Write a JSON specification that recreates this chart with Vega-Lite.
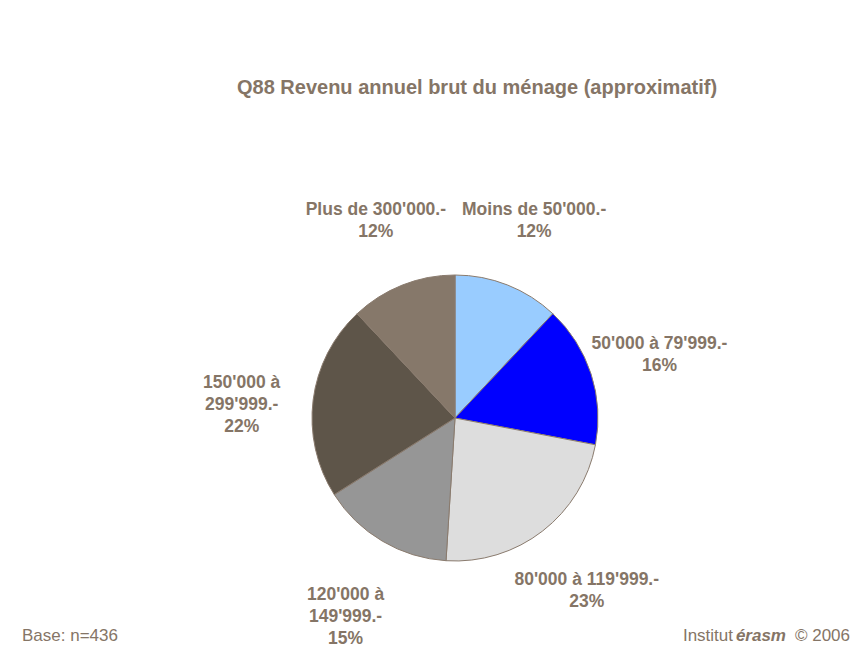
{
  "$schema": "https://vega.github.io/schema/vega-lite/v6.json",
  "width": 816,
  "height": 474,
  "autosize": {"type": "none"},
  "padding": {"left": 47, "top": 181, "right": 0, "bottom": 0},
  "background": "white",
  "config": {"view": {"stroke": null}, "font": "Liberation Sans"},
  "title": {
    "text": "Q88 Revenu annuel brut du ménage (approximatif)",
    "font": "Liberation Sans",
    "fontSize": 20,
    "fontWeight": "bold",
    "color": "#857566",
    "anchor": "middle",
    "frame": "group",
    "offset": 83,
    "dx": 22
  },
  "layer": [
    {
      "data": {"name": "revenu", "values": [
        {"categorie": "Moins de 50'000.-", "pourcentage": 12, "etiquette": "Moins de 50'000.-\n12%"},
        {"categorie": "50'000 à 79'999.-", "pourcentage": 16, "etiquette": "50'000 à 79'999.-\n16%"},
        {"categorie": "80'000 à 119'999.-", "pourcentage": 23, "etiquette": "80'000 à 119'999.-\n23%"},
        {"categorie": "120'000 à 149'999.-", "pourcentage": 15, "etiquette": "120'000 à\n149'999.-\n15%"},
        {"categorie": "150'000 à 299'999.-", "pourcentage": 22, "etiquette": "150'000 à\n299'999.-\n22%"},
        {"categorie": "Plus de 300'000.-", "pourcentage": 12, "etiquette": "Plus de 300'000.-\n12%"}
      ]},
      "transform": [{"window": [{"op": "row_number", "as": "rang"}]}],
      "encoding": {
        "theta": {"field": "pourcentage", "type": "quantitative", "stack": true},
        "order": {"field": "rang", "type": "quantitative"}
      },
      "layer": [
        {
          "mark": {"type": "arc", "outerRadius": 143, "stroke": "#8a7b6e", "strokeWidth": 1},
          "encoding": {
            "color": {
              "field": "categorie",
              "type": "nominal",
              "legend": null,
              "scale": {
                "domain": ["Moins de 50'000.-", "50'000 à 79'999.-", "80'000 à 119'999.-", "120'000 à 149'999.-", "150'000 à 299'999.-", "Plus de 300'000.-"],
                "range": ["#99ccff", "#0000ff", "#dddddd", "#969696", "#5e5549", "#86786a"]
              }
            }
          }
        },
        {
          "mark": {"type": "text", "radius": 215, "dy": -8, "font": "Liberation Sans", "fontSize": 17.5, "fontWeight": "bold", "color": "#857566", "lineBreak": "\n", "lineHeight": 22, "align": "center", "baseline": "middle"},
          "encoding": {"text": {"field": "etiquette", "type": "nominal"}}
        }
      ]
    },
    {
      "data": {"values": [{"t": "Base: n=436"}]},
      "mark": {"type": "text", "x": -25, "y": 455, "align": "left", "baseline": "middle", "font": "Liberation Sans", "fontSize": 17, "color": "#857566"},
      "encoding": {"text": {"field": "t", "type": "nominal"}}
    },
    {
      "data": {"values": [{"t": "Institut"}]},
      "mark": {"type": "text", "x": 686, "y": 455, "align": "right", "baseline": "middle", "font": "Liberation Sans", "fontSize": 17, "color": "#857566"},
      "encoding": {"text": {"field": "t", "type": "nominal"}}
    },
    {
      "data": {"values": [{"t": "érasm"}]},
      "mark": {"type": "text", "x": 739, "y": 455, "align": "right", "baseline": "middle", "font": "Liberation Sans", "fontSize": 17, "fontWeight": "bold", "fontStyle": "italic", "color": "#857566"},
      "encoding": {"text": {"field": "t", "type": "nominal"}}
    },
    {
      "data": {"values": [{"t": "© 2006"}]},
      "mark": {"type": "text", "x": 803, "y": 455, "align": "right", "baseline": "middle", "font": "Liberation Sans", "fontSize": 17, "color": "#857566"},
      "encoding": {"text": {"field": "t", "type": "nominal"}}
    }
  ]
}
